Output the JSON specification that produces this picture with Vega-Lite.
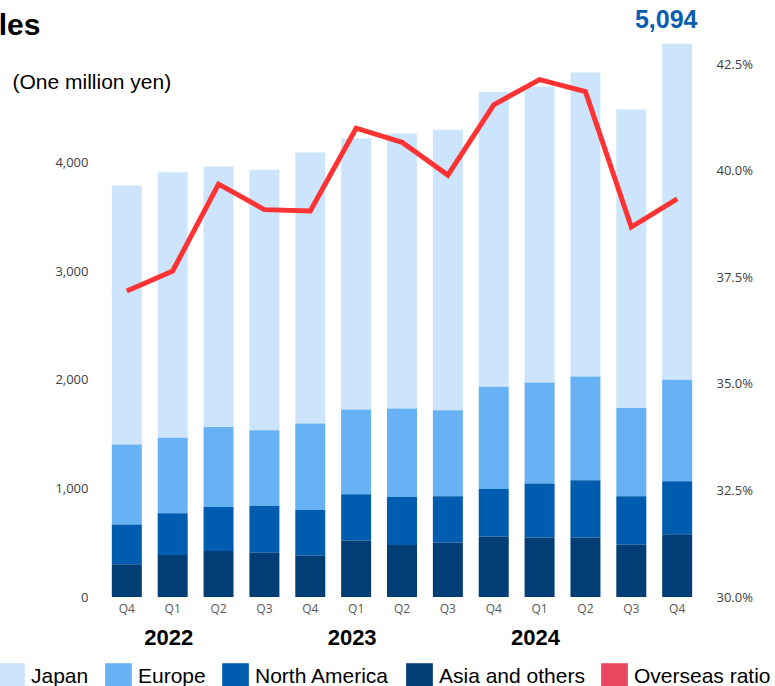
{
  "$schema": "https://vega.github.io/schema/vega-lite/v6.json",
  "width": 612,
  "height": 554,
  "autosize": {"type": "none"},
  "padding": {"left": 96, "top": 43, "right": 67, "bottom": 89},
  "background": "white",
  "title": {
    "text": "Sales",
    "anchor": "start",
    "frame": "group",
    "font": "Liberation Sans",
    "fontSize": 30,
    "fontWeight": "bold",
    "color": "#000000",
    "dx": -134,
    "offset": -33
  },
  "config": {
    "view": {"stroke": null},
    "axis": {"grid": false, "domain": false, "ticks": false}
  },
  "datasets": {
    "sales": [
      {"period": "01|Q4", "Japan": 2385, "Europe": 736, "North America": 367, "Asia and others": 301, "total": 3789, "ratio": 37.18},
      {"period": "02|Q1", "Japan": 2446, "Europe": 695, "North America": 384, "Asia and others": 386, "total": 3911, "ratio": 37.65},
      {"period": "03|Q2", "Japan": 2397, "Europe": 738, "North America": 405, "Asia and others": 423, "total": 3963, "ratio": 39.69},
      {"period": "04|Q3", "Japan": 2397, "Europe": 696, "North America": 432, "Asia and others": 408, "total": 3933, "ratio": 39.09},
      {"period": "05|Q4", "Japan": 2495, "Europe": 797, "North America": 420, "Asia and others": 380, "total": 4092, "ratio": 39.06},
      {"period": "06|Q1", "Japan": 2495, "Europe": 779, "North America": 426, "Asia and others": 521, "total": 4221, "ratio": 41.0},
      {"period": "07|Q2", "Japan": 2532, "Europe": 815, "North America": 442, "Asia and others": 478, "total": 4267, "ratio": 40.67},
      {"period": "08|Q3", "Japan": 2582, "Europe": 791, "North America": 427, "Asia and others": 501, "total": 4301, "ratio": 39.9},
      {"period": "09|Q4", "Japan": 2712, "Europe": 941, "North America": 438, "Asia and others": 557, "total": 4648, "ratio": 41.55},
      {"period": "10|Q1", "Japan": 2723, "Europe": 930, "North America": 498, "Asia and others": 547, "total": 4698, "ratio": 42.14},
      {"period": "11|Q2", "Japan": 2799, "Europe": 954, "North America": 528, "Asia and others": 547, "total": 4828, "ratio": 41.86},
      {"period": "12|Q3", "Japan": 2749, "Europe": 811, "North America": 447, "Asia and others": 481, "total": 4488, "ratio": 38.68},
      {"period": "13|Q4", "Japan": 3095, "Europe": 934, "North America": 488, "Asia and others": 577, "total": 5094, "ratio": 39.34}
    ],
    "regions": [
      {"region": "Asia and others", "stackRank": 1},
      {"region": "North America", "stackRank": 2},
      {"region": "Europe", "stackRank": 3},
      {"region": "Japan", "stackRank": 4}
    ]
  },
  "data": {"name": "sales"},
  "layer": [
    {
      "layer": [
        {
          "transform": [
            {"fold": ["Japan", "Europe", "North America", "Asia and others"], "as": ["region", "sales"]},
            {"lookup": "region", "from": {"data": {"name": "regions"}, "key": "region", "fields": ["stackRank"]}}
          ],
          "mark": {"type": "bar"},
          "encoding": {
            "x": {
              "field": "period",
              "type": "nominal",
              "scale": {"paddingInner": 0.346, "paddingOuter": 0.345},
              "axis": {
                "title": null,
                "labelExpr": "split(datum.value, '|')[1]",
                "labelAngle": 0,
                "labelFont": "Open Sans",
                "labelFontSize": 12,
                "labelColor": "#595959",
                "labelPadding": 6
              }
            },
            "y": {
              "field": "sales",
              "type": "quantitative",
              "stack": "zero",
              "scale": {"domain": [0, 5100], "nice": false},
              "axis": {
                "title": "(One million yen)",
                "titleAngle": 0,
                "titleAlign": "left",
                "titleBaseline": "middle",
                "titleX": -84,
                "titleY": 39,
                "titleFont": "Liberation Sans",
                "titleFontSize": 21,
                "titleFontWeight": "normal",
                "titleColor": "#000000",
                "values": [0, 1000, 2000, 3000, 4000],
                "format": ",.0f",
                "labelFont": "Open Sans",
                "labelFontSize": 13,
                "labelColor": "#404040",
                "labelPadding": 8
              }
            },
            "order": {"field": "stackRank", "type": "quantitative", "sort": "ascending"},
            "color": {
              "field": "region",
              "type": "nominal",
              "scale": {
                "domain": ["Japan", "Europe", "North America", "Asia and others", "Overseas ratio"],
                "range": ["#CCE5FC", "#67B2F4", "#005CAF", "#013E75", "#E8475F"]
              },
              "legend": {
                "orient": "none",
                "legendX": -98,
                "legendY": 620,
                "direction": "horizontal",
                "title": null,
                "symbolType": "square",
                "symbolSize": 713,
                "symbolStrokeWidth": 0,
                "symbolOpacity": 1,
                "labelFont": "Liberation Sans",
                "labelFontSize": 21,
                "labelColor": "#000000",
                "labelOffset": 6,
                "columnPadding": 16,
                "padding": 0,
                "labelLimit": 300
              }
            }
          }
        },
        {
          "transform": [{"filter": "datum.period == '13|Q4'"}],
          "mark": {"type": "text", "font": "Liberation Sans", "fontSize": 25, "fontWeight": "bold", "color": "#0B5DAF", "align": "center", "baseline": "alphabetic", "dx": -11, "dy": -16},
          "encoding": {
            "x": {"field": "period", "type": "nominal"},
            "y": {"field": "total", "type": "quantitative", "title": "(One million yen)"},
            "text": {"field": "total", "type": "quantitative", "format": ","}
          }
        }
      ]
    },
    {
      "mark": {"type": "line", "color": "#FF3333", "strokeWidth": 5},
      "encoding": {
        "x": {
          "field": "period",
          "type": "nominal",
          "axis": {
            "orient": "bottom",
            "title": null,
            "labelExpr": "datum.value == '02|Q1' ? '2022' : datum.value == '06|Q1' ? '2023' : datum.value == '10|Q1' ? '2024' : ''",
            "labelAngle": 0,
            "labelFont": "Liberation Sans",
            "labelFontSize": 22,
            "labelFontWeight": "bold",
            "labelColor": "#000000",
            "labelPadding": 30,
            "labelOffset": -4
          }
        },
        "y": {
          "field": "ratio",
          "type": "quantitative",
          "scale": {"domain": [30, 43], "nice": false, "zero": false},
          "axis": {
            "orient": "right",
            "title": null,
            "values": [30, 32.5, 35, 37.5, 40, 42.5],
            "labelExpr": "format(datum.value, '.1f') + '%'",
            "labelFont": "Open Sans",
            "labelFontSize": 13,
            "labelColor": "#404040",
            "labelPadding": 8
          }
        }
      }
    }
  ],
  "resolve": {"scale": {"y": "independent"}, "axis": {"x": "independent"}}
}
